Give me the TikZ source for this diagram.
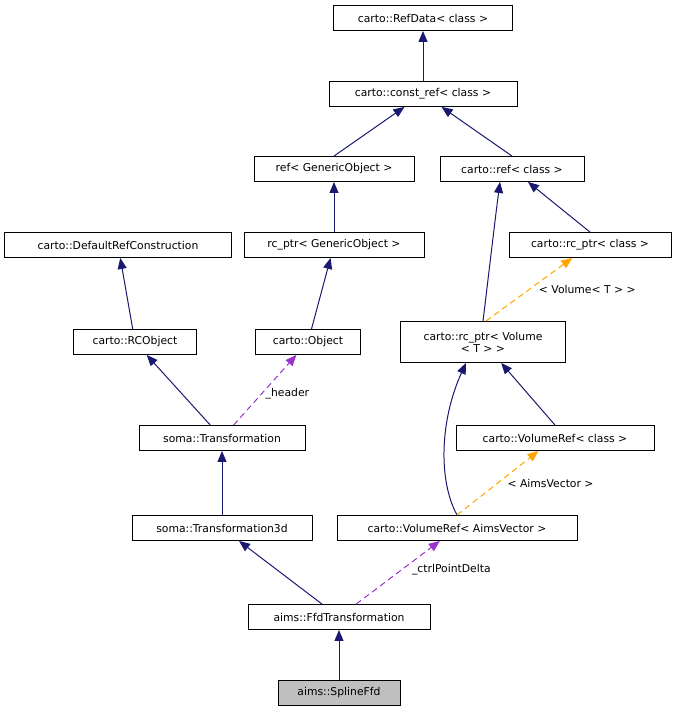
\documentclass[tikz,border=0pt]{standalone}
\usepackage{fontspec}
\setmainfont{DejaVu Sans}
\usetikzlibrary{arrows.meta}
\tikzset{
  cls/.style={draw, rectangle, inner sep=0pt, line width=0.9pt, minimum height=25pt, font=\fontsize{10.8}{12}\selectfont},
  inh/.style={draw, line width=1pt, color={rgb,255:red,25;green,25;blue,112}, -{Triangle[length=11pt,width=9pt]}},
  use/.style={draw, line width=1pt, dash pattern=on 6pt off 4pt, color={rgb,255:red,154;green,50;blue,205}, -{Triangle[length=11pt,width=9pt]}},
  tpl/.style={draw, line width=1pt, dash pattern=on 6pt off 4pt, color={rgb,255:red,255;green,165;blue,0}, -{Triangle[length=11pt,width=9pt]}},
  lbl/.style={font=\fontsize{10.8}{12}\selectfont, text=black}
}
\begin{document}
\begin{tikzpicture}[x=1pt,y=-1pt]
\useasboundingbox (0,0) rectangle (677,713);
\node[cls, minimum width=179pt] (refdata) at (423,18) {carto::RefData< class >};
\node[cls, minimum width=188pt] (constref) at (423,94) {carto::const\_ref< class >};
\node[cls, minimum width=160pt] (refgen) at (334,169) {ref< GenericObject >};
\node[cls, minimum width=144pt] (ref) at (512,169) {carto::ref< class >};
\node[cls, minimum width=227pt] (defref) at (118,245) {carto::DefaultRefConstruction};
\node[cls, minimum width=180pt] (rcgen) at (334,245) {rc\_ptr< GenericObject >};
\node[cls, minimum width=162pt] (rcptr) at (590,245) {carto::rc\_ptr< class >};
\node[cls, minimum width=123pt] (rcobj) at (135,342) {carto::RCObject};
\node[cls, minimum width=105pt] (object) at (308,342) {carto::Object};
\node[cls, minimum width=165pt, minimum height=41pt, align=center] (rcvol) at (483,342) {carto::rc\_ptr< Volume\\< T > >};
\node[cls, minimum width=166pt] (trans) at (222,438) {soma::Transformation};
\node[cls, minimum width=198pt] (volref) at (555,438) {carto::VolumeRef< class >};
\node[cls, minimum width=180pt] (trans3d) at (222,528) {soma::Transformation3d};
\node[cls, minimum width=240pt] (volaims) at (457,528) {carto::VolumeRef< AimsVector >};
\node[cls, minimum width=182pt] (ffd) at (339,617) {aims::FfdTransformation};
\node[cls, minimum width=122pt, fill={rgb,255:red,191;green,191;blue,191}] (spline) at (339,693) {aims::SplineFfd};

\path[inh] (constref) -- (refdata);
\path[inh] (refgen.north) -- (constref);
\path[inh] (ref.north) -- (constref);
\path[inh] (rcgen) -- (refgen);
\path[inh] (rcptr.north) -- (ref);
\path[inh] (rcvol.north) .. controls (488,280) and (495,220) .. (ref.south -| 500,0);
\path[inh] (rcobj) -- (defref);
\path[inh] (object) -- (rcgen);
\path[inh] (trans) -- (rcobj);
\path[inh] (volref.north) -- (rcvol);
\path[inh] (volaims.north) .. controls (438,480) and (440,420) .. (rcvol.south -| 466,0);
\path[inh] (trans3d) -- (trans);
\path[inh] (ffd) -- (trans3d);
\path[inh] (spline) -- (ffd);

\path[use] (trans) -- node[lbl, right, pos=0.45] {\_header} (object);
\path[use] (ffd) -- node[lbl, right, pos=0.55, xshift=6pt] {\_ctrlPointDelta} (volaims);
\path[tpl] (rcvol.north east) ++(-80,0) -- node[lbl, right, pos=0.5, xshift=6pt] {< Volume< T > >} (rcptr);
\path[tpl] (volaims.north) -- node[lbl, right, pos=0.5, xshift=6pt] {< AimsVector >} (volref);
\end{tikzpicture}
\end{document}
